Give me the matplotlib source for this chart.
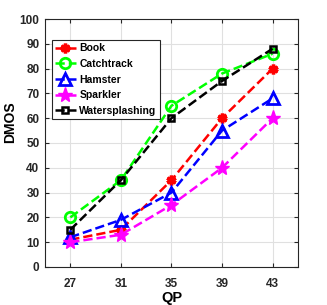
import matplotlib
matplotlib.use("Agg")
import matplotlib.pyplot as plt

qp = [27, 31, 35, 39, 43]
book = [11, 15, 35, 60, 80]
catchtrack = [20, 35, 65, 78, 86]
hamster = [12, 19, 30, 55, 68]
sparkler = [10, 13, 25, 40, 60]
watersplashing = [15, 35, 60, 75, 88]

plt.rcParams['font.family'] = ['Liberation Sans', 'DejaVu Sans']
plt.rcParams['font.weight'] = 'bold'

fig = plt.figure(figsize=(3.27, 3.05), dpi=100)
ax = fig.add_axes([0.1376, 0.1246, 0.7734, 0.8131])

lw = 1.8
ax.plot(qp, book, color='red', ls='--', lw=lw, marker=(6, 2, 0), ms=7, mew=2.5, label='Book')
ax.plot(qp, catchtrack, color='#00ff00', ls='--', lw=lw, marker='o', ms=7.5, mfc='none', mew=2, label='Catchtrack')
ax.plot(qp, hamster, color='blue', ls='--', lw=lw, marker='^', ms=8.5, mfc='none', mew=2, label='Hamster')
ax.plot(qp, sparkler, color='magenta', ls='--', lw=lw, marker='*', ms=11, mew=1, label='Sparkler')
ax.plot(qp, watersplashing, color='black', ls='--', lw=lw, marker='s', ms=5, mfc='none', mew=1.8, label='Watersplashing')

ax.set_xlim(25, 45)
ax.set_ylim(0, 100)
ax.set_xticks(qp)
ax.set_yticks(range(0, 101, 10))
ax.grid(True, color='#e0e0e0', lw=0.8)
ax.set_axisbelow(True)
ax.tick_params(direction='in', length=3, labelsize=8.5, top=True, right=True, colors='#262626')
ax.tick_params(axis='x', pad=8)
ax.tick_params(axis='y', pad=4)
for s in ax.spines.values():
    s.set_color('#262626')
    s.set_linewidth(0.8)
ax.set_xlabel('QP', fontsize=10.5, fontweight='bold')
ax.xaxis.set_label_coords(0.5, -0.095)
ax.set_ylabel('DMOS', fontsize=10, fontweight='bold')
ax.yaxis.set_label_coords(-0.11, 0.585)
leg = ax.legend(loc='upper left', bbox_to_anchor=(0.027, 0.915), fontsize=7.5, fancybox=False,
                edgecolor='#262626', framealpha=1, handlelength=2.0, handletextpad=0.35,
                borderpad=0.3, labelspacing=0.55, borderaxespad=0)
leg.get_frame().set_linewidth(0.8)

fig.savefig('out.png', dpi=100)
